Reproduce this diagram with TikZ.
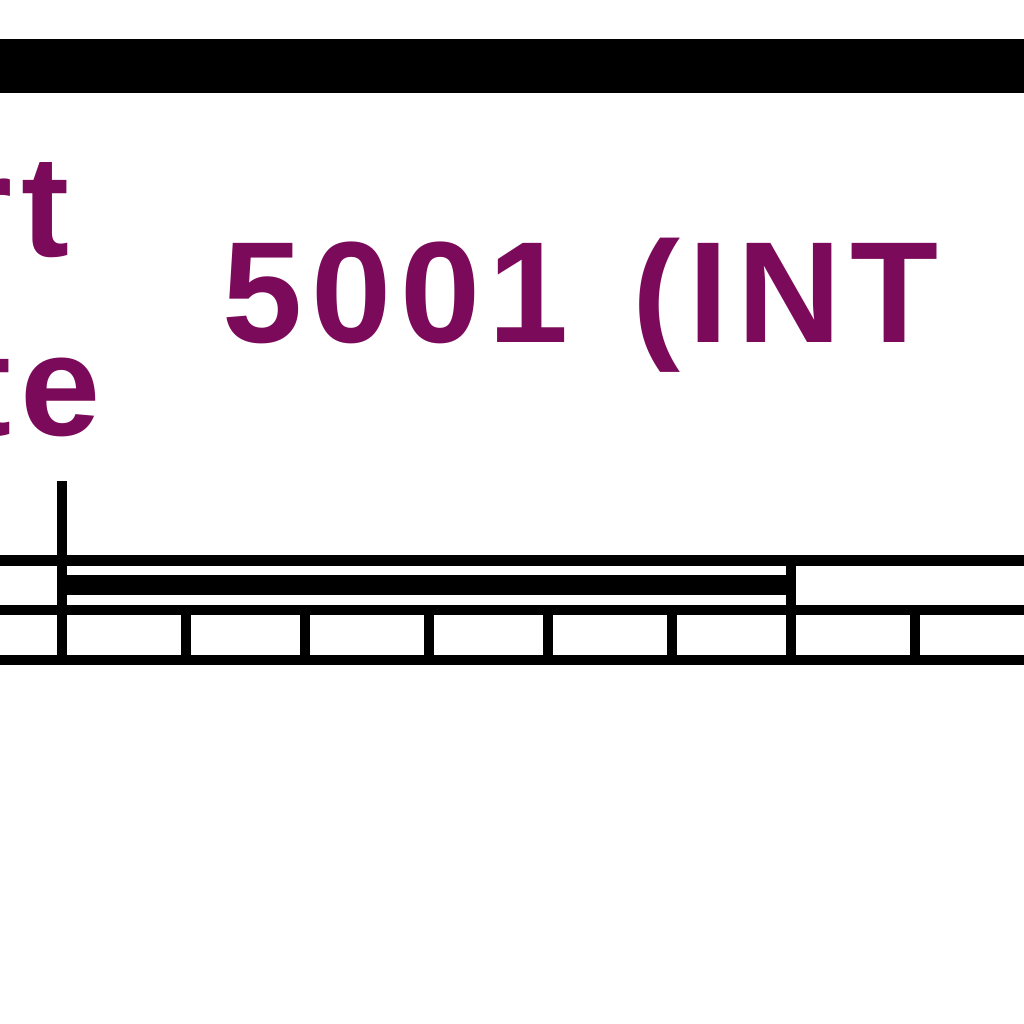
\documentclass[tikz,border=0pt]{standalone}
\usepackage{fontspec}
\setmainfont{Liberation Sans}
\definecolor{plum}{RGB}{124,10,90}
\begin{document}
\begin{tikzpicture}[x=0.1mm,y=-0.1mm,
	label/.style={inner sep=0pt,text=plum,font=\bfseries\fontsize{41}{50}\selectfont\addfontfeature{LetterSpace=6}}]
	
	\useasboundingbox (0,0) rectangle (1024,1024);
	\clip (0,0) rectangle (1024,1024);
	\fill (0,39) rectangle (1024,93);
	
	\node[label,anchor=base east] (rt) at (70,256) {rt};
	\node[label,anchor=base east] (te) at (101,435) {te};
	\node[label,anchor=base west] (port) at (222,342) {5001\hspace{0.1em} (INT};
	
	\draw[line width=2.85pt] (0,560.5) -- (1024,560.5);
	\draw[line width=2.85pt] (0,610) -- (1024,610);
	\draw[line width=2.85pt] (0,660) -- (1024,660);
	\draw[line width=2.85pt] (62,481) -- (62,665);
	\draw[line width=2.85pt] (791,556) -- (791,610);
	\fill (67,575) rectangle (791,595);
	
	\foreach \x in {186,305,429,548,672,791,915}
	{
		\draw[line width=2.85pt] (\x,610) -- (\x,660);
	}
	
\end{tikzpicture}
\end{document}
